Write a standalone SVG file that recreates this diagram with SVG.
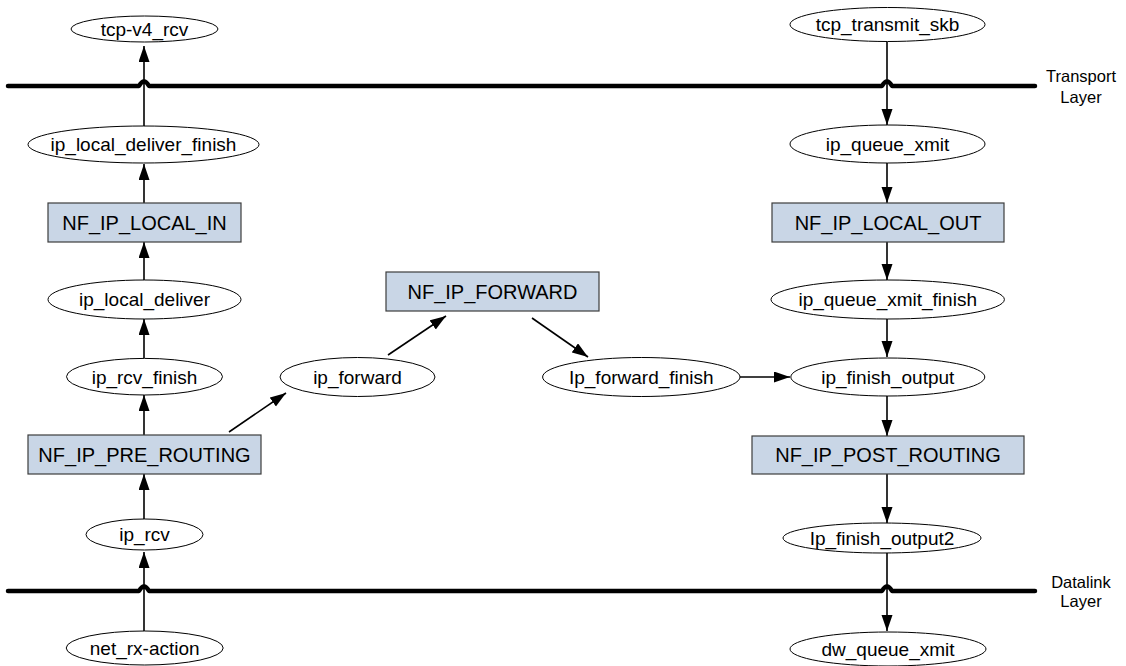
<svg xmlns="http://www.w3.org/2000/svg" width="1126" height="666" viewBox="0 0 1126 666">
<style>
.bg{fill:#ffffff}
.ell{fill:#ffffff;stroke:#000000;stroke-width:1}
.box{fill:#c9d6e6;stroke:#3c3c3c;stroke-width:1.2}
.t{font-family:"Liberation Sans",Arial,sans-serif;font-size:19px;fill:#000000;text-anchor:middle}
.bt{font-family:"Liberation Sans",Arial,sans-serif;font-size:20px;fill:#000000;text-anchor:middle}
.lbl{font-family:"Liberation Sans",Arial,sans-serif;font-size:16.5px;fill:#000000;text-anchor:middle}
.layer{fill:none;stroke:#000000;stroke-width:4.5;stroke-linecap:round;stroke-linejoin:round}
.c{fill:none;stroke:#000000;stroke-width:1.6;marker-end:url(#ah)}
</style>
<defs>
<marker id="ah" markerUnits="userSpaceOnUse" markerWidth="17" markerHeight="12" refX="16" refY="5.5" orient="auto">
<path d="M0,0 L16,5.5 L0,11 Z" fill="#000000"/>
</marker>
</defs>
<rect class="bg" x="0" y="0" width="1126" height="666"/>

<g id="layers">
<path class="layer" d="M8,86 H139 Q144,77 149,86 H882 Q887,77 892,86 H1035"/>
<path class="layer" d="M8,591 H139 Q144,582 149,591 H882 Q887,582 892,591 H1035"/>
<text class="lbl" x="1081" y="82">Transport</text>
<text class="lbl" x="1081" y="103">Layer</text>
<text class="lbl" x="1081" y="588">Datalink</text>
<text class="lbl" x="1081" y="607">Layer</text>
</g>

<g id="connectors">
<line class="c" x1="144" y1="631" x2="144" y2="552"/>
<line class="c" x1="144" y1="519" x2="144" y2="474"/>
<line class="c" x1="144" y1="435" x2="144" y2="395"/>
<line class="c" x1="144" y1="358" x2="144" y2="319"/>
<line class="c" x1="144" y1="280" x2="144" y2="242"/>
<line class="c" x1="144" y1="203" x2="144" y2="164"/>
<line class="c" x1="144" y1="126" x2="144" y2="46"/>
<line class="c" x1="229" y1="432" x2="286" y2="393"/>
<line class="c" x1="388" y1="355" x2="446" y2="316"/>
<line class="c" x1="532" y1="318" x2="588" y2="357"/>
<line class="c" x1="740" y1="377" x2="790" y2="377"/>
<line class="c" x1="887" y1="42" x2="887" y2="125"/>
<line class="c" x1="887" y1="163" x2="887" y2="203"/>
<line class="c" x1="887" y1="242" x2="887" y2="280"/>
<line class="c" x1="887" y1="319" x2="887" y2="357"/>
<line class="c" x1="887" y1="396" x2="887" y2="436"/>
<line class="c" x1="887" y1="474" x2="887" y2="523"/>
<line class="c" x1="887" y1="553" x2="887" y2="631"/>
</g>

<g id="tcp-v4_rcv"><ellipse class="ell" cx="144.5" cy="29" rx="73.5" ry="13"/><text class="t" x="144.5" y="35.5">tcp-v4_rcv</text></g>
<g id="ip_local_deliver_finish"><ellipse class="ell" cx="143.5" cy="144.5" rx="115.5" ry="18.5"/><text class="t" x="143.5" y="151">ip_local_deliver_finish</text></g>
<g id="NF_IP_LOCAL_IN"><rect class="box" x="48" y="203" width="193" height="39"/><text class="bt" x="144.5" y="229.5">NF_IP_LOCAL_IN</text></g>
<g id="ip_local_deliver"><ellipse class="ell" cx="144.5" cy="299.5" rx="96.5" ry="19.5"/><text class="t" x="144.5" y="306">ip_local_deliver</text></g>
<g id="ip_rcv_finish"><ellipse class="ell" cx="144.5" cy="376.7" rx="78" ry="18.3"/><text class="t" x="144.5" y="383.5">ip_rcv_finish</text></g>
<g id="NF_IP_PRE_ROUTING"><rect class="box" x="28" y="435" width="233" height="39"/><text class="bt" x="144.5" y="461.5">NF_IP_PRE_ROUTING</text></g>
<g id="ip_rcv"><ellipse class="ell" cx="144.5" cy="534.5" rx="58.5" ry="15.5"/><text class="t" x="144.5" y="541">ip_rcv</text></g>
<g id="net_rx-action"><ellipse class="ell" cx="144.7" cy="648" rx="78.5" ry="17"/><text class="t" x="144.7" y="654.5">net_rx-action</text></g>
<g id="ip_forward"><ellipse class="ell" cx="357.5" cy="377" rx="77.5" ry="19.5"/><text class="t" x="357.5" y="383.5">ip_forward</text></g>
<g id="NF_IP_FORWARD"><rect class="box" x="386" y="272" width="213" height="39"/><text class="bt" x="492.5" y="298.5">NF_IP_FORWARD</text></g>
<g id="Ip_forward_finish"><ellipse class="ell" cx="641.3" cy="377" rx="98.7" ry="19.5"/><text class="t" x="641.3" y="383.5">Ip_forward_finish</text></g>
<g id="tcp_transmit_skb"><ellipse class="ell" cx="887.5" cy="24.5" rx="97.5" ry="17"/><text class="t" x="887.5" y="31">tcp_transmit_skb</text></g>
<g id="ip_queue_xmit"><ellipse class="ell" cx="887.5" cy="144" rx="97.5" ry="19"/><text class="t" x="887.5" y="150.5">ip_queue_xmit</text></g>
<g id="NF_IP_LOCAL_OUT"><rect class="box" x="772" y="203" width="232" height="39"/><text class="bt" x="888" y="229.5">NF_IP_LOCAL_OUT</text></g>
<g id="ip_queue_xmit_finish"><ellipse class="ell" cx="887.7" cy="299.5" rx="116.7" ry="19.5"/><text class="t" x="887.7" y="306">ip_queue_xmit_finish</text></g>
<g id="ip_finish_output"><ellipse class="ell" cx="887.8" cy="377" rx="97" ry="19"/><text class="t" x="887.8" y="383.5">ip_finish_output</text></g>
<g id="NF_IP_POST_ROUTING"><rect class="box" x="752" y="436" width="272" height="38"/><text class="bt" x="888" y="462">NF_IP_POST_ROUTING</text></g>
<g id="Ip_finish_output2"><ellipse class="ell" cx="882" cy="538" rx="99" ry="15"/><text class="t" x="882" y="544.5">Ip_finish_output2</text></g>
<g id="dw_queue_xmit"><ellipse class="ell" cx="888" cy="649" rx="98" ry="17"/><text class="t" x="888" y="655.5">dw_queue_xmit</text></g>
</svg>
